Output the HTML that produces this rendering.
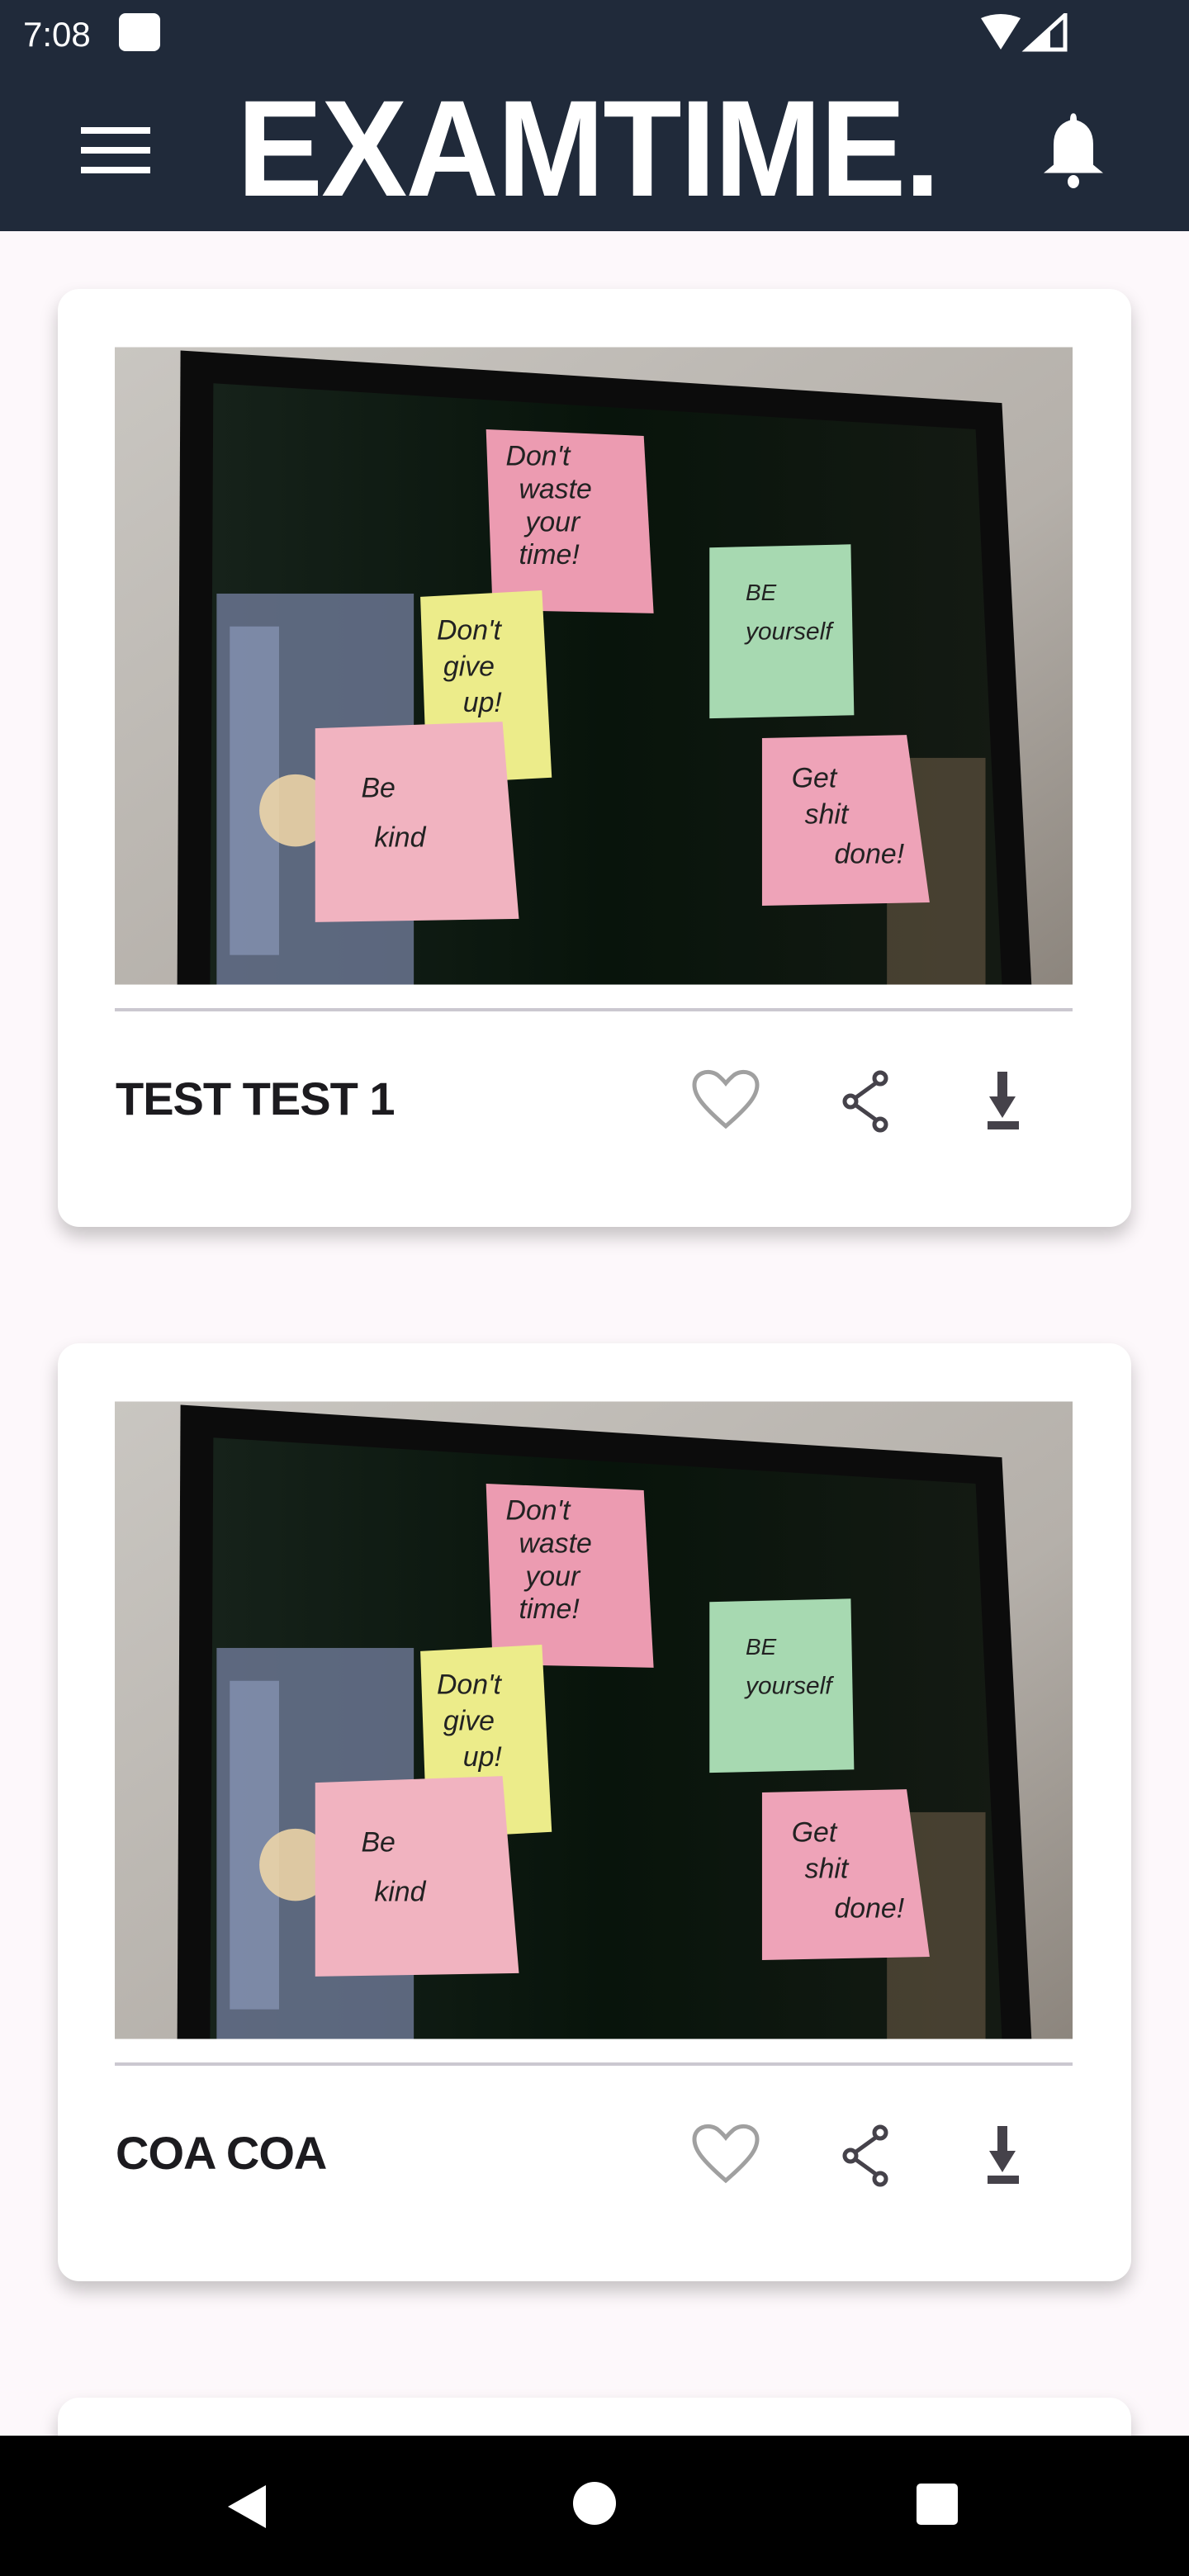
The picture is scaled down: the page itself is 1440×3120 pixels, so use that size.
<!DOCTYPE html>
<html style="width:1440px;height:3120px;overflow:hidden"><head><meta charset="utf-8"><style>
*{margin:0;padding:0;box-sizing:border-box}
body{width:1440px;height:3120px;background:#fdf8fb;position:relative;overflow:hidden;font-family:"Liberation Sans",sans-serif}
.hdr{position:absolute;left:0;top:0;width:1440px;height:280px;background:#202a3a}
.card{position:absolute;left:70px;width:1300px;height:1136px;background:#fff;border-radius:26px;box-shadow:0 12px 22px rgba(0,0,0,0.22)}
.img{position:absolute;left:69px;top:70px;width:1160px;height:773px}
.div{position:absolute;left:69px;top:871px;width:1160px;height:4px;background:#cbc8d0}
.title{position:absolute;left:70px;top:953px;font-size:56px;font-weight:bold;color:#1c1b1f;line-height:56px;letter-spacing:-1px}
.nav{position:absolute;left:0;top:2950px;width:1440px;height:170px;background:#000}
</style></head><body>
<div class="hdr">
 <div style="position:absolute;left:28px;top:18px;color:#fff;font-size:42px;">7:08</div>
 <div style="position:absolute;left:144px;top:16px;width:50px;height:46px;background:#fff;border-radius:8px"></div>
 <svg style="position:absolute;left:1180px;top:16px" width="120" height="48"><path d="M8 6 Q32 -4 56 6 L32 44 Z" fill="#fff"/><path d="M64 44 L110 2 L110 44 Z" fill="none" stroke="#fff" stroke-width="5"/><path d="M64 44 L92 18 L92 44Z" fill="#fff"/></svg>
 <div style="position:absolute;left:98px;top:154px;width:84px;height:8px;background:#fff"></div>
 <div style="position:absolute;left:98px;top:178px;width:84px;height:8px;background:#fff"></div>
 <div style="position:absolute;left:98px;top:202px;width:84px;height:8px;background:#fff"></div>
 <div style="position:absolute;left:287px;top:98px;color:#fff;font-weight:bold;font-size:166px;line-height:166px;transform:scaleX(0.94);transform-origin:0 0;letter-spacing:-2px">EXAMTIME.</div>
 <svg style="position:absolute;left:1260px;top:134px" width="80" height="96"><path d="M40 4 Q44 4 44 14 Q64 22 64 50 L64 80 L76 92 L4 92 L16 80 L16 50 Q16 22 36 14 Q36 4 40 4Z" fill="#fff" transform="scale(1,0.82)"/><ellipse cx="40" cy="86" rx="7" ry="8" fill="#fff"/></svg>
</div>

<svg width="0" height="0" style="position:absolute"><defs>
<symbol id="photo" viewBox="0 0 583 388">
 <defs><linearGradient id="bg" x1="0" y1="0" x2="1" y2="1"><stop offset="0" stop-color="#c9c6c1"/><stop offset="0.6" stop-color="#b5b0aa"/><stop offset="1" stop-color="#8c857d"/></linearGradient>
 <linearGradient id="scr" x1="0" y1="0" x2="1" y2="0"><stop offset="0" stop-color="#16221a"/><stop offset="0.5" stop-color="#08140b"/><stop offset="1" stop-color="#141a13"/></linearGradient></defs>
 <rect width="583" height="388" fill="url(#bg)"/>
 <polygon points="40,2 540,34 558,388 38,388" fill="#0c0c0c"/>
 <polygon points="60,22 524,50 540,388 58,388" fill="url(#scr)"/>
 <rect x="62" y="150" width="120" height="238" fill="#6f7b98" opacity="0.8"/>
 <rect x="70" y="170" width="30" height="200" fill="#8a97b8" opacity="0.7"/>
 <circle cx="110" cy="282" r="22" fill="#f3d9a8" opacity="0.85"/>
 <rect x="470" y="250" width="60" height="138" fill="#6b5a46" opacity="0.6"/>
 <g font-family="Liberation Sans,sans-serif" font-size="17" fill="#222" font-style="italic">
 <polygon points="226,50 322,54 328,162 230,160" fill="#ec9bb1"/>
 <text x="238" y="72">Don't</text><text x="246" y="92">waste</text><text x="250" y="112">your</text><text x="246" y="132">time!</text>
 <polygon points="186,152 260,148 266,262 190,266" fill="#ecec8a"/>
 <text x="196" y="178">Don't</text><text x="200" y="200">give</text><text x="212" y="222">up!</text>
 <polygon points="122,232 236,228 246,348 122,350" fill="#f1b3c0"/>
 <text x="150" y="274">Be</text><text x="158" y="304">kind</text>
 <polygon points="362,122 448,120 450,224 362,226" fill="#a7d9b1"/>
 <text x="384" y="154" font-size="14">BE</text><text x="384" y="178" font-size="15">yourself</text>
 <polygon points="394,238 482,236 496,338 394,340" fill="#eea3b8"/>
 <text x="412" y="268">Get</text><text x="420" y="290">shit</text><text x="438" y="314">done!</text>
 </g>
</symbol>
<symbol id="icons" viewBox="0 0 420 80">
 <path d="M49 70 C19 44 11 32 11 20 C11 6 27 0 39 8 Q45 13 49 18 Q53 13 59 8 C71 0 87 6 87 20 C87 32 79 44 49 70Z" fill="none" stroke="#a0a0a0" stroke-width="5"/>
 <g stroke="#45424a" stroke-width="5" fill="#fff"><line x1="236" y1="14" x2="200" y2="40"/><line x1="200" y1="40" x2="236" y2="66"/><circle cx="236" cy="12" r="7"/><circle cx="200" cy="40" r="7"/><circle cx="236" cy="68" r="7"/></g>
 <path d="M378 4 L390 4 L390 34 L400 34 L384 60 L368 34 L378 34Z" fill="#45424a"/><rect x="366" y="64" width="38" height="10" fill="#45424a"/>
</symbol></defs></svg>

<div class="card" style="top:350px">
 <svg class="img"><use href="#photo"/></svg>
 <div class="div"></div>
 <div class="title">TEST TEST 1</div>
 <svg style="position:absolute;left:760px;top:944px" width="420" height="80"><use href="#icons"/></svg>
</div>
<div class="card" style="top:1627px">
 <svg class="img"><use href="#photo"/></svg>
 <div class="div"></div>
 <div class="title">COA COA</div>
 <svg style="position:absolute;left:760px;top:944px" width="420" height="80"><use href="#icons"/></svg>
</div>
<div class="card" style="top:2904px;height:80px"></div>

<div class="nav">
 <svg style="position:absolute;left:270px;top:56px" width="60" height="60"><polygon points="6,30 52,4 52,56" fill="#fff"/></svg>
 <div style="position:absolute;left:694px;top:56px;width:52px;height:52px;border-radius:50%;background:#fff"></div>
 <div style="position:absolute;left:1110px;top:58px;width:50px;height:50px;border-radius:5px;background:#fff"></div>
</div>
</body></html>
